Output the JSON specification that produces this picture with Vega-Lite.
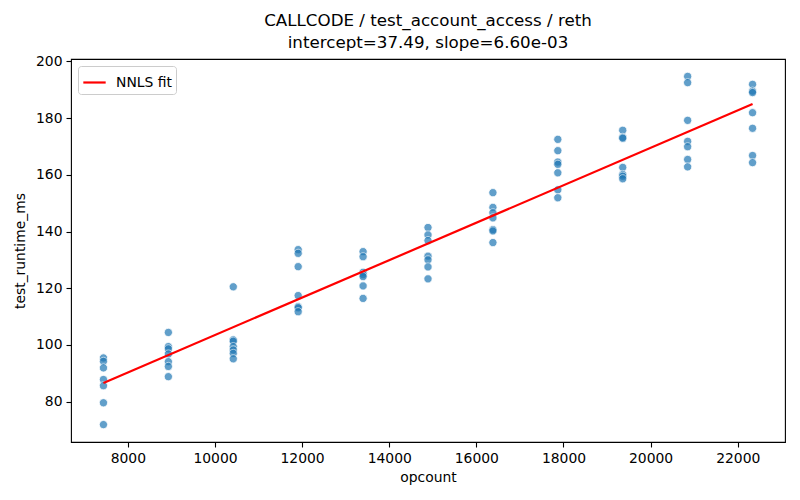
{
  "$schema": "https://vega.github.io/schema/vega-lite/v6.json",
  "autosize": "none",
  "width": 714,
  "height": 383,
  "padding": {"left": 71, "top": 59, "right": 14, "bottom": 58},
  "background": "white",
  "title": {
    "text": ["CALLCODE / test_account_access / reth", "intercept=37.49, slope=6.60e-03"],
    "font": "DejaVu Sans",
    "fontSize": 16.7,
    "fontWeight": "normal",
    "color": "black",
    "lineHeight": 22,
    "anchor": "middle",
    "offset": 3
  },
  "config": {
    "view": {"stroke": "black", "strokeWidth": 1.1},
    "axis": {
      "grid": false,
      "domain": false,
      "tickColor": "black",
      "tickSize": 5,
      "tickWidth": 1.1,
      "labelFont": "DejaVu Sans",
      "labelFontSize": 13.9,
      "labelColor": "black",
      "titleFont": "DejaVu Sans",
      "titleFontSize": 13.9,
      "titleFontWeight": "normal",
      "titleColor": "black",
      "labelPadding": 4
    },
    "legend": {
      "labelFont": "DejaVu Sans",
      "labelFontSize": 13.9,
      "labelColor": "black"
    }
  },
  "datasets": {
    "points": [
      {"opcount": 7440, "ms": 95.4}, {"opcount": 7440, "ms": 94.2}, {"opcount": 7440, "ms": 91.9}, {"opcount": 7440, "ms": 87.8}, {"opcount": 7440, "ms": 85.6}, {"opcount": 7440, "ms": 79.6}, {"opcount": 7440, "ms": 71.9},
      {"opcount": 8930, "ms": 104.4}, {"opcount": 8930, "ms": 99.4}, {"opcount": 8930, "ms": 98.6}, {"opcount": 8930, "ms": 96.8}, {"opcount": 8930, "ms": 94.1}, {"opcount": 8930, "ms": 92.4}, {"opcount": 8930, "ms": 88.8},
      {"opcount": 10420, "ms": 120.5}, {"opcount": 10420, "ms": 101.8}, {"opcount": 10420, "ms": 101.3}, {"opcount": 10420, "ms": 99.4}, {"opcount": 10420, "ms": 98.2}, {"opcount": 10420, "ms": 97.0}, {"opcount": 10420, "ms": 95.1},
      {"opcount": 11910, "ms": 133.6}, {"opcount": 11910, "ms": 132.3}, {"opcount": 11910, "ms": 127.6}, {"opcount": 11910, "ms": 117.4}, {"opcount": 11910, "ms": 113.5}, {"opcount": 11910, "ms": 113.1}, {"opcount": 11910, "ms": 111.7},
      {"opcount": 13400, "ms": 132.9}, {"opcount": 13400, "ms": 131.1}, {"opcount": 13400, "ms": 125.6}, {"opcount": 13400, "ms": 124.8}, {"opcount": 13400, "ms": 124.1}, {"opcount": 13400, "ms": 120.8}, {"opcount": 13400, "ms": 116.4},
      {"opcount": 14890, "ms": 141.4}, {"opcount": 14890, "ms": 138.8}, {"opcount": 14890, "ms": 136.8}, {"opcount": 14890, "ms": 131.3}, {"opcount": 14890, "ms": 130.0}, {"opcount": 14890, "ms": 127.5}, {"opcount": 14890, "ms": 123.3},
      {"opcount": 16380, "ms": 153.7}, {"opcount": 16380, "ms": 148.5}, {"opcount": 16380, "ms": 146.6}, {"opcount": 16380, "ms": 144.8}, {"opcount": 16380, "ms": 140.7}, {"opcount": 16380, "ms": 140.2}, {"opcount": 16380, "ms": 136.1},
      {"opcount": 17870, "ms": 172.5}, {"opcount": 17870, "ms": 168.5}, {"opcount": 17870, "ms": 164.5}, {"opcount": 17870, "ms": 163.7}, {"opcount": 17870, "ms": 160.7}, {"opcount": 17870, "ms": 154.7}, {"opcount": 17870, "ms": 151.9},
      {"opcount": 19360, "ms": 175.7}, {"opcount": 19360, "ms": 173.2}, {"opcount": 19360, "ms": 172.9}, {"opcount": 19360, "ms": 162.6}, {"opcount": 19360, "ms": 160.1}, {"opcount": 19360, "ms": 159.5}, {"opcount": 19360, "ms": 158.6},
      {"opcount": 20850, "ms": 194.7}, {"opcount": 20850, "ms": 192.5}, {"opcount": 20850, "ms": 179.2}, {"opcount": 20850, "ms": 171.8}, {"opcount": 20850, "ms": 169.9}, {"opcount": 20850, "ms": 165.4}, {"opcount": 20850, "ms": 162.8},
      {"opcount": 22340, "ms": 191.9}, {"opcount": 22340, "ms": 189.5}, {"opcount": 22340, "ms": 189.0}, {"opcount": 22340, "ms": 181.9}, {"opcount": 22340, "ms": 176.4}, {"opcount": 22340, "ms": 166.8}, {"opcount": 22340, "ms": 164.3}
    ],
    "fit": [
      {"opcount": 7440, "ms": 86.59, "series": "NNLS fit"},
      {"opcount": 22340, "ms": 184.93, "series": "NNLS fit"}
    ]
  },
  "layer": [
    {
      "data": {"name": "points"},
      "mark": {"type": "circle", "size": 68, "color": "#1f77b4", "opacity": 0.7, "stroke": "white", "strokeWidth": 0.8, "strokeOpacity": 1},
      "encoding": {
        "x": {"field": "opcount", "type": "quantitative", "title": "opcount",
              "scale": {"domain": [6695, 23085], "nice": false, "zero": false},
              "axis": {"values": [8000, 10000, 12000, 14000, 16000, 18000, 20000, 22000], "format": "d", "titlePadding": 6}},
        "y": {"field": "ms", "type": "quantitative", "title": "test_runtime_ms",
              "scale": {"domain": [65.76, 200.84], "nice": false, "zero": false},
              "axis": {"values": [80, 100, 120, 140, 160, 180, 200], "titlePadding": 8}}
      }
    },
    {
      "data": {"name": "fit"},
      "mark": {"type": "line", "strokeWidth": 2.2},
      "encoding": {
        "x": {"field": "opcount", "type": "quantitative"},
        "y": {"field": "ms", "type": "quantitative"},
        "color": {"field": "series", "type": "nominal",
                  "scale": {"range": ["red"]},
                  "legend": {"title": null, "orient": "top-left", "offset": 7, "padding": 4,
                             "strokeColor": "#cccccc", "fillColor": "white", "cornerRadius": 3,
                             "symbolType": "stroke", "symbolSize": 500, "symbolStrokeWidth": 2.2,
                             "labelOffset": 9}}
      }
    }
  ]
}
